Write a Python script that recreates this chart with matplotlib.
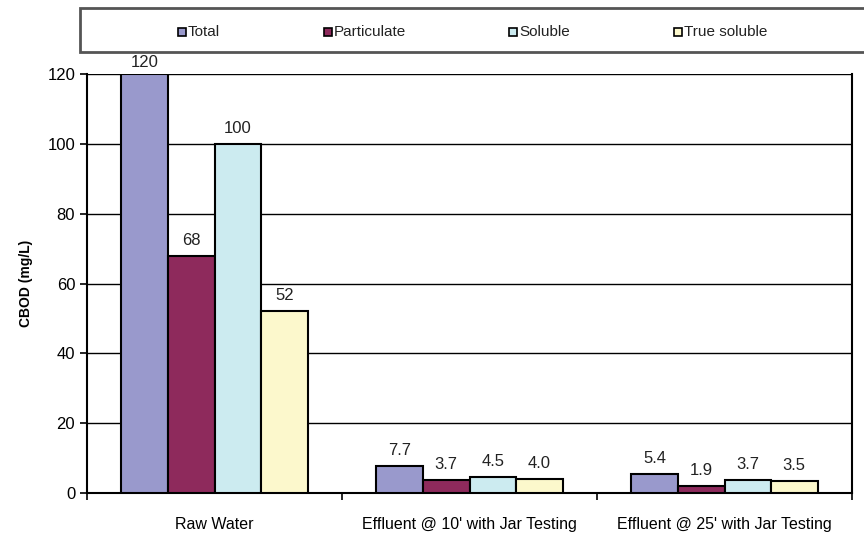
import numpy as np
import matplotlib.pyplot as plt
from matplotlib.patches import Rectangle

plt.rcParams['font.family'] = ['Liberation Sans', 'DejaVu Sans']

# CBOD fractions for each sample
groups = ["Raw Water", "Effluent @ 10' with Jar Testing", "Effluent @ 25' with Jar Testing"]
series = ["Total", "Particulate", "Soluble", "True soluble"]
total = [120, 7.7, 5.4]
particulate = [68, 3.7, 1.9]
soluble = [100, 4.5, 3.7]
true_soluble = [52, 4.0, 3.5]
labels = [["120", "7.7", "5.4"], ["68", "3.7", "1.9"],
          ["100", "4.5", "3.7"], ["52", "4.0", "3.5"]]
colors = ["#9999CC", "#8E2A5C", "#CCEBF0", "#FCF8CC"]

W, H = 864, 534
fig = plt.figure(figsize=(8.64, 5.34), dpi=100)
ax = fig.add_axes([87/W, 1-493/H, (852-87)/W, (493-74)/H])

x = np.arange(len(groups))
w = 0.73 / 4
for i, vals in enumerate([total, particulate, soluble, true_soluble]):
    pos = x - 0.365 + w * (i + 0.5)
    bars = ax.bar(pos, vals, w, color=colors[i], edgecolor='black', linewidth=1.5,
                  label=series[i], zorder=3)
    for b, v, t in zip(bars, vals, labels[i]):
        # keep the label of the tallest bar tucked under the legend strip
        ax.text(b.get_x() + b.get_width() / 2, min(v + 2.3, 121.1), t,
                ha='center', va='bottom', fontsize=12, color='#222222')

ax.set_xlim(-0.5, 2.5)
ax.set_ylim(0, 120)
ax.set_yticks(range(0, 121, 20))
ax.yaxis.grid(True, color='black', linewidth=1.0, zorder=0)
ax.set_xticks(x)
ax.set_xticklabels(groups, fontsize=11.5)
ax.set_xticks([-0.5, 0.5, 1.5, 2.5], minor=True)
ax.tick_params(axis='x', which='major', length=0, pad=17)
ax.tick_params(axis='x', which='minor', length=5, width=1.2, direction='out')
ax.tick_params(axis='y', length=5, width=1.2, labelsize=12)
ax.set_ylabel('CBOD (mg/L)', fontsize=10, fontweight='bold', labelpad=10)
for side in ['left', 'bottom', 'right']:
    ax.spines[side].set_linewidth(1.5)
ax.spines['top'].set_visible(False)

# legend strip across the top
fig.patches.append(Rectangle((80/W, 1-52/H), 800/W, 44/H, transform=fig.transFigure,
                             facecolor='white', edgecolor='#555555', linewidth=2))
marker_x = [182, 328, 513, 678]
for mx, name, c in zip(marker_x, series, colors):
    fig.patches.append(Rectangle(((mx-4)/W, 1-36/H), 8/W, 8/H, transform=fig.transFigure,
                                 facecolor=c, edgecolor='black', linewidth=1.2))
    fig.text((mx+6)/W, 1-32/H, name, ha='left', va='center', fontsize=11,
             color='#222222')

plt.savefig('out.png', dpi=100)
